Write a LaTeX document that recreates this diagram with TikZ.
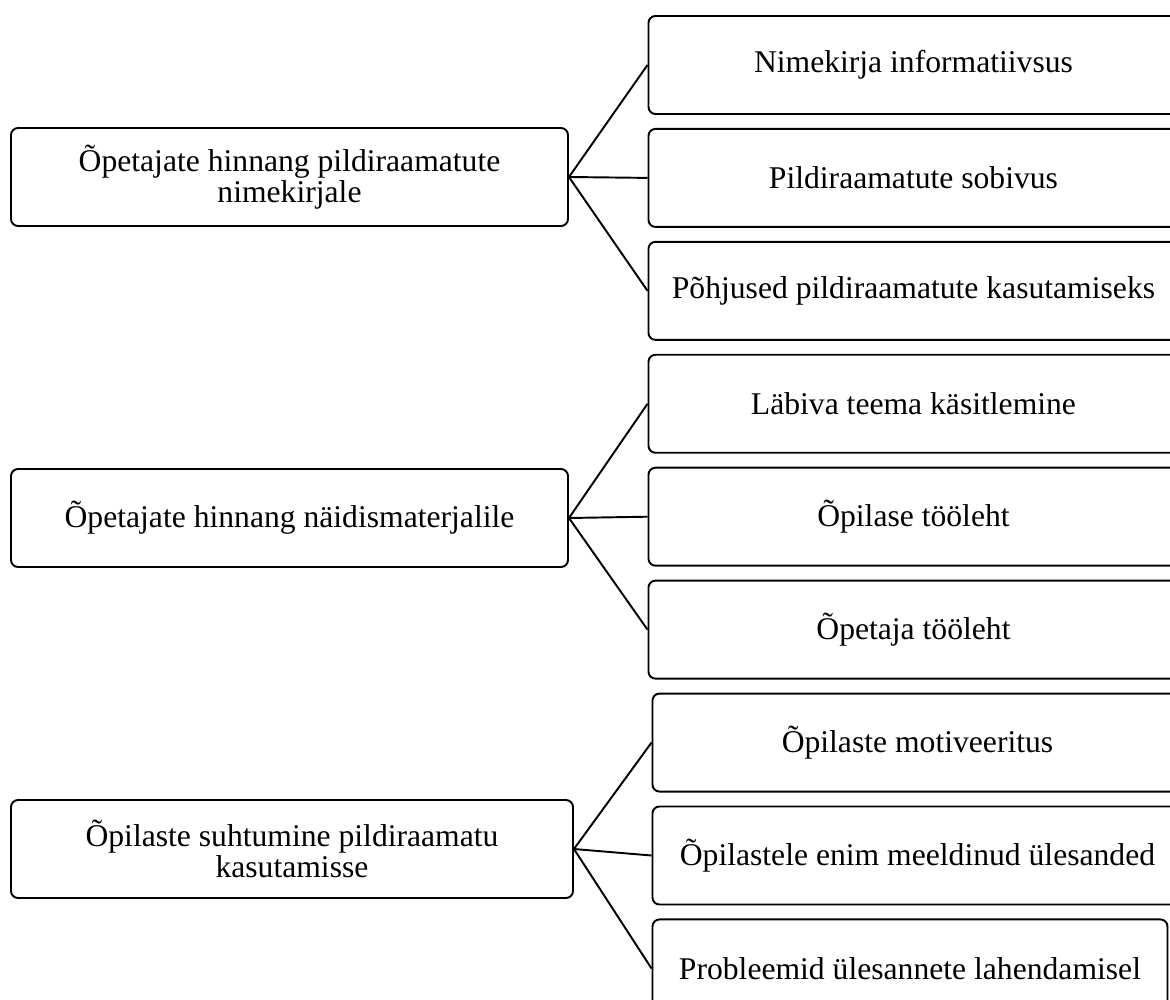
\documentclass[tikz,border=0pt]{standalone}
\usepackage{fontspec}
\setmainfont{Liberation Serif}
\usetikzlibrary{positioning}

\begin{document}
\begin{tikzpicture}[line width=1.1pt]
        \tikzset{block/.style= {draw, rectangle, rounded corners=4pt, align=center, minimum height=1.96cm, font=\fontsize{18}{15.6}\selectfont},
        lblock/.style={block, minimum width=11.14cm},
        rblock/.style={block, minimum width=10.6cm},
        }
        \useasboundingbox (0,0) rectangle (23.4,-20);
        %% left column
        \node [lblock] (teacherlist) at (5.79,-3.54) {Õpetajate hinnang pildiraamatute \\ nimekirjale};
        \node [lblock] (teachermat) at (5.79,-10.36) {Õpetajate hinnang näidismaterjalile};
        \node [lblock, minimum width=11.24cm] (pupils) at (5.84,-16.98) {Õpilaste suhtumine pildiraamatu \\ kasutamisse};
        %% right column
        \node [rblock, anchor=north west] (info) at (12.95,-0.3) {Nimekirja informatiivsus};
        \node [rblock, below=0.26cm of info.south west, anchor=north west] (fit) {Pildiraamatute sobivus};
        \node [rblock, below=0.26cm of fit.south west, anchor=north west] (reasons) {Põhjused pildiraamatute kasutamiseks};
        \node [rblock, below=0.26cm of reasons.south west, anchor=north west] (theme) {Läbiva teema käsitlemine};
        \node [rblock, below=0.26cm of theme.south west, anchor=north west] (pupilsheet) {Õpilase tööleht};
        \node [rblock, below=0.26cm of pupilsheet.south west, anchor=north west] (teachersheet) {Õpetaja tööleht};
        \node [rblock, below=0.26cm of teachersheet.south west, anchor=north west, xshift=0.08cm] (motiv) {Õpilaste motiveeritus};
        \node [rblock, below=0.26cm of motiv.south west, anchor=north west] (liked) {Õpilastele enim meeldinud ülesanded};
        \node [rblock, below=0.26cm of liked.south west, anchor=north west, minimum width=10.3cm] (problems) {Probleemid ülesannete lahendamisel};

%% paths
        \path[draw] (teacherlist.east) edge (info.west) edge (fit.west) edge (reasons.west)
                    (teachermat.east) edge (theme.west) edge (pupilsheet.west) edge (teachersheet.west)
                    (pupils.east) edge (motiv.west) edge (liked.west) edge (problems.west)
                    ;
    \end{tikzpicture}
\end{document}
